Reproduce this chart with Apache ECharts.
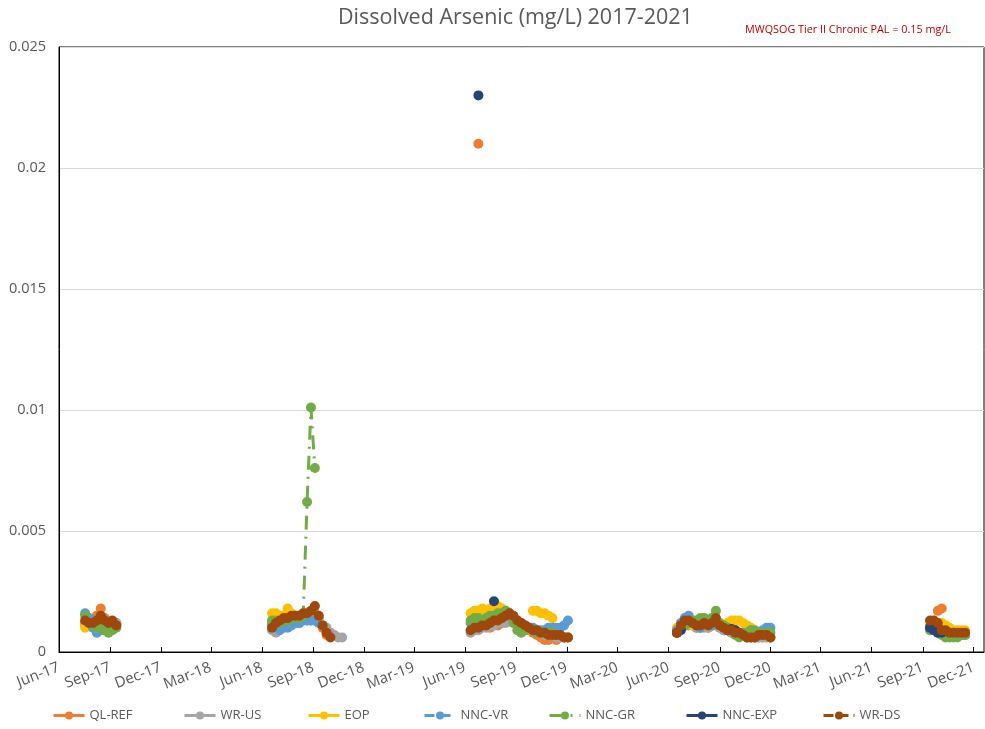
<!DOCTYPE html>
<html>
<head>
<meta charset="utf-8">
<title>Dissolved Arsenic (mg/L) 2017-2021</title>
<script src="https://cdn.jsdelivr.net/npm/echarts@6/dist/echarts.min.js"></script>
<style>
  html, body { margin: 0; padding: 0; background: #fff; }
  #chart { width: 985px; height: 729px; }
</style>
</head>
<body>
<div id="chart"></div>
<script>
// Sampling dates, one list per field season
const dates2017 = ['2017-07-18','2017-07-25','2017-08-01','2017-08-08','2017-08-15','2017-08-22','2017-08-29','2017-09-05','2017-09-12'];
const dates2018 = ['2018-06-19','2018-06-26','2018-07-03','2018-07-10','2018-07-17','2018-07-24','2018-07-31','2018-08-07','2018-08-14','2018-08-21','2018-08-28','2018-09-04','2018-09-11','2018-09-18','2018-09-25','2018-10-02','2018-10-09','2018-10-16','2018-10-23'];
const dates2019 = ['2019-06-11','2019-06-18','2019-06-25','2019-07-02','2019-07-09','2019-07-16','2019-07-23','2019-07-30','2019-08-06','2019-08-13','2019-08-20','2019-08-27','2019-09-03','2019-09-10','2019-09-17','2019-09-24','2019-10-01','2019-10-08','2019-10-15','2019-10-22','2019-10-29','2019-11-05','2019-11-12','2019-11-19','2019-11-26','2019-12-03'];
const dates2020 = ['2020-06-16','2020-06-23','2020-06-30','2020-07-07','2020-07-14','2020-07-21','2020-07-28','2020-08-04','2020-08-11','2020-08-18','2020-08-25','2020-09-01','2020-09-08','2020-09-15','2020-09-22','2020-09-29','2020-10-06','2020-10-13','2020-10-20','2020-10-27','2020-11-03','2020-11-10','2020-11-17','2020-11-24','2020-12-01'];
const dates2021 = ['2021-09-14','2021-09-21','2021-09-28','2021-10-05','2021-10-12','2021-10-19','2021-10-26','2021-11-02','2021-11-09','2021-11-16'];

// Dissolved arsenic (mg/L) per site, one list per season (null = not sampled)
const qlRef = [
  [0.0012,0.0011,0.0013,0.0015,0.0018,0.0014,0.0012,0.0011,0.0012],
  [0.0012,0.0012,0.0013,0.0013,0.0014,0.0014,0.0014,0.0015,0.0015,0.0015,0.0016,0.0016,0.0014,0.0010,0.0007,null,null,null,null],
  [null,null,0.021,null,null,0.0010,0.0011,0.0011,0.0012,0.0013,0.0014,0.0013,0.0012,0.0011,0.0010,0.0009,0.0008,0.0007,0.0006,0.0005,0.0005,0.0006,0.0005,0.0006,0.0006,0.0006],
  [0.0008,0.0010,0.0011,0.0012,0.0011,0.0010,0.0010,0.0011,0.0010,0.0011,0.0012,0.0010,0.0009,0.0009,0.0008,0.0008,0.0007,0.0007,0.0006,0.0006,0.0006,0.0006,0.0006,0.0006,0.0006],
  [null,null,0.0017,0.0018,null,null,null,null,null,null]
];
const wrUs = [
  [0.0011,0.0012,0.0011,0.0011,0.0012,0.0011,0.0011,0.0012,0.0012],
  [0.0009,0.0008,0.0010,0.0011,0.0011,0.0012,0.0012,0.0012,0.0013,0.0013,0.0013,0.0013,0.0012,0.0011,0.0010,0.0008,0.0007,0.0006,0.0006],
  [0.0008,0.0009,0.0009,0.0010,0.0010,0.0011,0.0011,0.0012,0.0012,0.0012,0.0013,0.0012,0.0011,0.0010,0.0010,0.0009,0.0009,0.0008,0.0008,0.0007,0.0007,0.0007,0.0006,0.0006,0.0006,0.0006],
  [0.0008,0.0010,0.0011,0.0011,0.0011,0.0010,0.0010,0.0010,0.0010,0.0011,0.0011,0.0010,0.0009,0.0009,0.0008,0.0008,0.0007,0.0007,0.0006,0.0006,0.0006,0.0006,0.0006,0.0006,0.0006],
  [0.0010,0.0010,0.0009,0.0008,0.0008,0.0007,0.0007,0.0007,0.0007,0.0007]
];
const eop = [
  [0.0010,0.0011,0.0012,0.0012,0.0011,0.0011,0.0012,0.0011,0.0011],
  [0.0016,0.0016,0.0015,0.0015,0.0018,0.0016,0.0015,0.0015,0.0014,0.0014,0.0015,0.0014,0.0013,null,null,null,null,null,null],
  [0.0016,0.0017,0.0017,0.0018,0.0017,0.0018,0.0019,0.0019,0.0018,0.0017,null,null,null,null,null,null,0.0017,0.0017,0.0016,0.0016,0.0015,0.0014,null,null,null,null],
  [0.0010,0.0011,0.0012,0.0012,0.0011,0.0011,0.0011,0.0011,0.0011,0.0011,0.0012,0.0011,0.0011,0.0012,0.0013,0.0013,0.0013,0.0012,0.0011,0.0010,null,null,null,null,null],
  [0.0011,0.0012,0.0012,0.0012,0.0011,0.0010,0.0009,0.0009,0.0009,0.0009]
];
const nncVr = [
  [0.0016,0.0014,0.0010,0.0008,0.0009,0.0010,0.0011,0.0010,0.0011],
  [0.0011,0.0010,0.0009,0.0010,0.0010,0.0011,0.0012,0.0012,0.0013,0.0013,0.0013,0.0013,0.0012,null,null,null,null,null,null],
  [0.0012,0.0013,0.0013,0.0012,0.0013,0.0013,0.0014,0.0014,0.0015,0.0015,0.0015,0.0014,0.0013,0.0012,0.0011,0.0010,0.0010,0.0009,0.0009,0.0009,0.0010,0.0010,0.0010,0.0010,0.0011,0.0013],
  [0.0009,0.0012,0.0014,0.0015,0.0013,0.0011,0.0010,0.0012,0.0012,0.0011,0.0012,0.0011,0.0010,0.0010,0.0009,0.0009,0.0008,0.0008,0.0008,0.0009,0.0008,0.0008,0.0009,0.0010,0.0010],
  [0.0010,0.0010,0.0009,0.0008,0.0008,0.0008,0.0008,0.0007,0.0007,0.0007]
];
const nncGr = [
  [0.0015,0.0012,0.0011,0.0010,0.0010,0.0009,0.0008,0.0009,0.0010],
  [0.0013,0.0013,0.0012,0.0013,0.0013,0.0014,0.0014,0.0014,0.0015,0.0062,0.0101,0.0076,null,null,null,null,null,null,null],
  [0.0013,0.0014,0.0014,0.0013,0.0014,0.0015,0.0015,0.0016,0.0016,0.0017,0.0016,0.0012,0.0009,0.0008,0.0009,0.0010,0.0009,0.0008,0.0008,0.0008,0.0008,0.0008,0.0007,0.0007,null,null],
  [0.0008,0.0010,0.0011,0.0012,0.0013,0.0013,0.0014,0.0014,0.0013,0.0014,0.0017,0.0012,0.0011,0.0010,0.0009,0.0007,0.0006,0.0007,0.0008,0.0009,0.0009,0.0008,0.0007,0.0008,0.0008],
  [0.0009,0.0009,0.0008,0.0007,0.0006,0.0006,0.0006,0.0006,0.0007,0.0007]
];
const nncExp = [
  [null,null,null,null,null,null,null,null,null],
  [null,null,null,null,null,null,null,null,null,null,null,null,null,null,null,null,null,null,null],
  [null,null,0.023,null,null,null,0.0021,null,null,null,null,null,null,null,null,null,null,null,null,null,null,null,null,null,null,null],
  [0.0008,0.0009,null,null,null,null,null,null,null,null,null,null,null,0.0009,0.00095,0.0009,null,null,null,null,null,null,null,null,null],
  [0.0010,0.0009,0.0008,0.0008,null,null,null,null,null,null]
];
const wrDs = [
  [0.0013,0.0012,0.0012,0.0013,0.0015,0.0013,0.0012,0.0013,0.0011],
  [0.0010,0.0012,0.0013,0.0014,0.0014,0.0015,0.0015,0.0015,0.0016,0.0016,0.0017,0.0019,0.0015,0.0011,0.0008,0.0006,null,null,null],
  [0.0009,0.0010,0.0010,0.0011,0.0011,0.0012,0.0013,0.0013,0.0014,0.0015,0.0016,0.0015,0.0013,0.0012,0.0011,0.0010,0.0009,0.0009,0.0008,0.0008,0.0007,0.0007,0.0007,0.0007,0.0006,0.0006],
  [0.0008,0.0011,0.0013,0.0013,0.0012,0.0011,0.0011,0.0012,0.0011,0.0012,0.0014,0.0011,0.0010,0.0009,0.0009,0.0008,0.0008,0.0007,0.0006,0.0006,0.0006,0.0007,0.0007,0.0007,0.0006],
  [0.0013,0.0013,0.0012,0.0009,0.0009,0.0008,0.0008,0.0008,0.0008,0.0008]
];

// Site names and quarterly axis ticks
const siteNames = ['QL-REF','WR-US','EOP','NNC-VR','NNC-GR','NNC-EXP','WR-DS'];
const tickDates = ['2017-06-01','2017-09-01','2017-12-01','2018-03-01','2018-06-01','2018-09-01','2018-12-01','2019-03-01','2019-06-01','2019-09-01','2019-12-01','2020-03-01','2020-06-01','2020-09-01','2020-12-01','2021-03-01','2021-06-01','2021-09-01','2021-12-01'];
const tickLabels = ['Jun-17','Sep-17','Dec-17','Mar-18','Jun-18','Sep-18','Dec-18','Mar-19','Jun-19','Sep-19','Dec-19','Mar-20','Jun-20','Sep-20','Dec-20','Mar-21','Jun-21','Sep-21','Dec-21'];

const seasons = [dates2017, dates2018, dates2019, dates2020, dates2021];
const siteValues = [qlRef, wrUs, eop, nncVr, nncGr, nncExp, wrDs];

function toMs(s) {
  const p = s.split('-').map(Number);
  return Date.UTC(p[0], p[1] - 1, p[2]);
}

// Flatten one site's seasons into [time, value] pairs, with an empty
// point between seasons so the line breaks across the winter gap.
function buildData(bySeason) {
  const out = [];
  seasons.forEach((dates, i) => {
    if (i > 0) {
      const prev = seasons[i - 1];
      out.push([(toMs(prev[prev.length - 1]) + toMs(dates[0])) / 2, '-']);
    }
    dates.forEach((d, j) => {
      const v = bySeason[i][j];
      out.push([toMs(d), v == null ? '-' : v]);
    });
  });
  return out;
}

const textGrey = '#595959';
const font = 'Open Sans';
const colors = ['#ED7D31', '#A5A5A5', '#FFC000', '#5B9BD5', '#70AD47', '#264478', '#9E480E'];
const dashes = ['solid', 'solid', 'solid', [10, 6], [14, 7, 2, 7], 'solid', [10, 5]];
const legendLeft = [47, 178, 302, 418, 543, 680, 817];

const tickMs = tickDates.map(toMs);
const labelByMs = {};
tickMs.forEach((t, i) => { labelByMs[t] = tickLabels[i]; });

const series = siteNames.map((name, i) => ({
  name: name,
  type: 'line',
  data: buildData(siteValues[i]),
  symbol: 'circle',
  symbolSize: 10,
  showSymbol: true,
  connectNulls: false,
  lineStyle: { color: colors[i], width: 3, type: dashes[i] },
  itemStyle: { color: colors[i] },
  emphasis: { disabled: true }
}));

const chart = echarts.init(document.getElementById('chart'), null, { renderer: 'canvas' });
chart.setOption({
  animation: false,
  backgroundColor: '#ffffff',
  title: [
    {
      text: 'Dissolved Arsenic (mg/L) 2017-2021',
      left: 333, top: 2,
      textStyle: { color: textGrey, fontFamily: font, fontSize: 21.5, fontWeight: 'normal' }
    },
    {
      text: 'MWQSOG Tier II Chronic PAL = 0.15 mg/L',
      left: 740, top: 19,
      textStyle: { color: '#C00000', fontFamily: font, fontSize: 10.8, fontWeight: 'normal' }
    }
  ],
  legend: siteNames.map((name, i) => ({
    data: [name],
    left: legendLeft[i],
    top: 704,
    itemWidth: 31,
    itemHeight: 10,
    lineStyle: { width: 3 },
    textStyle: { color: textGrey, fontFamily: font, fontSize: 13 },
    selectedMode: false
  })),
  grid: {
    left: 59, right: 1, top: 47, bottom: 77,
    show: true, borderColor: '#000', borderWidth: 1,
    containLabel: false
  },
  xAxis: {
    type: 'value',
    min: toMs('2017-06-01'),
    max: toMs('2021-12-20'),
    splitLine: { show: false },
    axisLine: { show: true, lineStyle: { color: '#000', width: 1 } },
    axisTick: { show: true, inside: true, length: 5, customValues: tickMs, lineStyle: { color: '#000' } },
    axisLabel: {
      customValues: tickMs,
      rotate: 21,
      margin: 15,
      color: textGrey,
      fontFamily: font,
      fontSize: 15,
      formatter: v => labelByMs[v] || ''
    }
  },
  yAxis: {
    type: 'value',
    min: 0, max: 0.025, interval: 0.005,
    axisLine: { show: true, lineStyle: { color: '#000', width: 1 } },
    axisTick: { show: false },
    splitLine: { show: true, lineStyle: { color: '#d9d9d9', width: 1 } },
    axisLabel: { color: textGrey, fontFamily: font, fontSize: 14.5, margin: 13 }
  },
  series: series
});
</script>
</body>
</html>
